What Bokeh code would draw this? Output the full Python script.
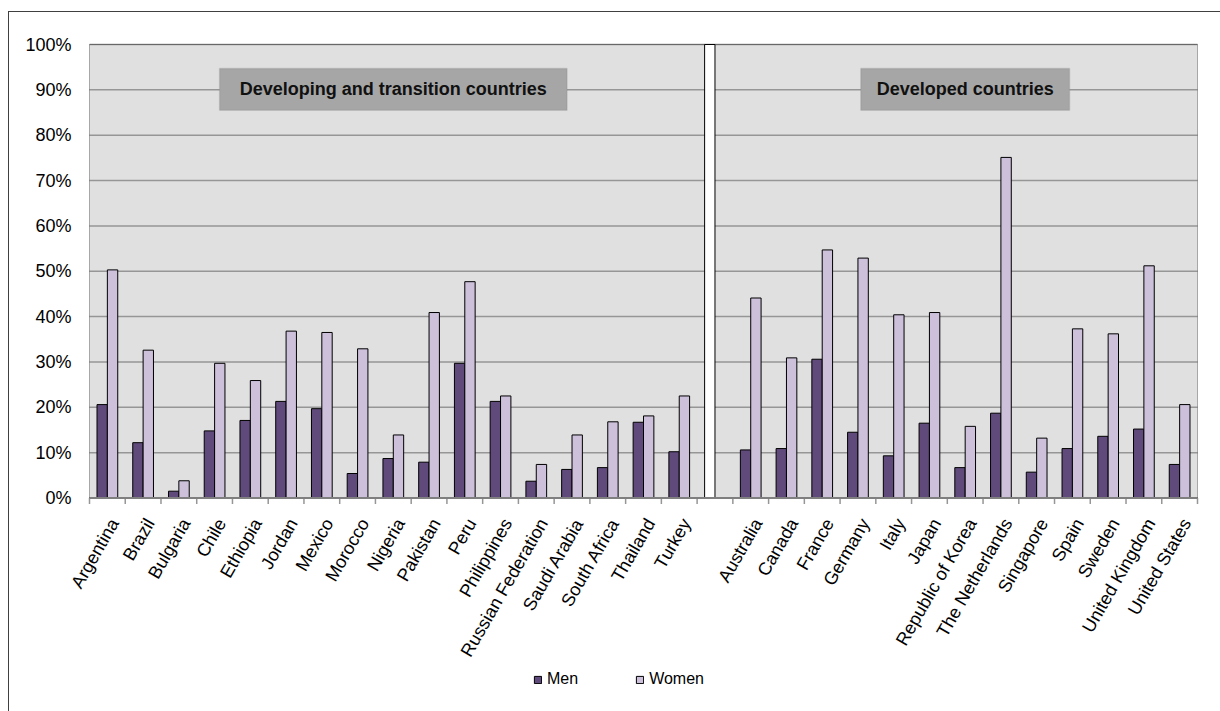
import math

from bokeh.core.properties import value
from bokeh.embed import file_html
from bokeh.models import (BoxAnnotation, ColumnDataSource, Label, Legend,
                          LegendItem, Range1d)
from bokeh.plotting import figure
from bokeh.resources import INLINE
from bokeh.transform import dodge

# Share of each group (per cent)
developing = ["Argentina", "Brazil", "Bulgaria", "Chile", "Ethiopia", "Jordan",
              "Mexico", "Morocco", "Nigeria", "Pakistan", "Peru", "Philippines",
              "Russian Federation", "Saudi Arabia", "South Africa", "Thailand",
              "Turkey"]
men_developing = [20.6, 12.2, 1.5, 14.8, 17.1, 21.3, 19.7, 5.4, 8.7, 7.9, 29.7,
                  21.3, 3.7, 6.3, 6.7, 16.7, 10.2]
women_developing = [50.3, 32.6, 3.8, 29.7, 25.9, 36.8, 36.5, 32.9, 13.9, 40.9,
                    47.7, 22.5, 7.4, 13.9, 16.8, 18.1, 22.5]

developed = ["Australia", "Canada", "France", "Germany", "Italy", "Japan",
             "Republic of Korea", "The Netherlands", "Singapore", "Spain",
             "Sweden", "United Kingdom", "United States"]
men_developed = [10.6, 10.9, 30.6, 14.5, 9.3, 16.5, 6.7, 18.7, 5.7, 10.9, 13.6,
                 15.2, 7.4]
women_developed = [44.1, 30.9, 54.7, 52.9, 40.4, 40.9, 15.8, 75.1, 13.2, 37.3,
                   36.2, 51.2, 20.6]

group_titles = ["Developing and transition countries", "Developed countries"]
y_ticks = list(range(0, 101, 10))
y_tick_labels = [f"{t}%" for t in y_ticks]

FONT = "Liberation Sans"
MEN_COLOR = "#604a7b"
WOMEN_COLOR = "#ccc0da"
GRID_COLOR = "#969696"
PANEL_COLOR = "#e0e0e0"

# page geometry (pixels): the bar panel spans PANEL_LEFT..PANEL_RIGHT and
# PANEL_TOP..ZERO_Y; everything else (labels, legend) lies around it
W, H = 1220, 711
PANEL_LEFT, PANEL_RIGHT = 89, 1197
PANEL_TOP, ZERO_Y = 44, 497.5

# one empty slot separates the two groups
slot_labels = developing + [""] + developed
n_slots = len(slot_labels)
gap_slot = len(developing)
x_dev = [i + 0.5 for i in range(len(developing))]
x_dvd = [gap_slot + 1 + i + 0.5 for i in range(len(developed))]

source = ColumnDataSource(dict(
    x=x_dev + x_dvd,
    men=men_developing + men_developed,
    women=women_developing + women_developed,
    name=developing + developed,
))

# the plotting frame covers the whole page so that the category labels and
# the legend outside the bar panel are not cut off
slot_px = (PANEL_RIGHT - PANEL_LEFT) / n_slots
unit_px = (ZERO_Y - PANEL_TOP) / 100
x_range = Range1d(-PANEL_LEFT / slot_px, (W - PANEL_LEFT) / slot_px)
y_range = Range1d(-(H - ZERO_Y) / unit_px, 100 + PANEL_TOP / unit_px)

p = figure(width=W, height=H, output_backend="svg", toolbar_location=None,
           x_range=x_range, y_range=y_range, x_axis_location=None,
           y_axis_location=None, min_border=0)
p.background_fill_alpha = 0
p.border_fill_alpha = 0
p.outline_line_color = None
p.grid.visible = False
# thin frame round the whole chart, drawn behind the canvas
p.styles = {"background": ("linear-gradient(#404040, #404040) 8px 11px / 1px 100% no-repeat, "
                           "linear-gradient(#404040, #404040) 8px 11px / 100% 1px no-repeat, "
                           "white")}

# grey bar panel
p.add_layout(BoxAnnotation(left=0, right=n_slots, bottom=0, top=100,
                           fill_color=PANEL_COLOR, fill_alpha=1, line_color=None,
                           level="image"))

# horizontal gridlines across the panel
p.segment(x0=0, x1=n_slots, y0=y_ticks, y1=y_ticks, line_color=GRID_COLOR,
          line_width=1.5)

bar_w = 0.29
r_men = p.vbar(x=dodge("x", -bar_w / 2, range=p.x_range), top="men", width=bar_w,
               source=source, fill_color=MEN_COLOR, line_color="black",
               line_width=1)
r_women = p.vbar(x=dodge("x", bar_w / 2, range=p.x_range), top="women",
                 width=bar_w, source=source, fill_color=WOMEN_COLOR,
                 line_color="black", line_width=1)

# white separator between the two country groups
sep = ColumnDataSource(dict(x=[gap_slot + 0.5], top=[100]))
p.vbar(x=dodge("x", -bar_w / 2, range=p.x_range), top="top", width=bar_w,
       source=sep, fill_color="white", line_color="black", line_width=1)

# panel outline, then the grey category axis line with its tick marks
p.add_layout(BoxAnnotation(left=0, right=n_slots, bottom=0, top=100,
                           fill_alpha=0, line_color="black", line_width=1,
                           level="glyph"))
p.segment(x0=0, x1=n_slots, y0=0, y1=0, line_color=GRID_COLOR, line_width=2)
p.ray(x=list(range(n_slots + 1)), y=0, length=6, length_units="screen",
      angle=-math.pi / 2, line_color=GRID_COLOR, line_width=1.5)

# category labels
p.text(x="x", y=0, text="name", source=source, angle=60, angle_units="deg",
       text_align="right", text_baseline="middle", x_offset=7, y_offset=22,
       text_font=value(FONT), text_font_size="18px", text_color="black")

# value labels
p.text(x=0, y=y_ticks, text=y_tick_labels, x_offset=-18, text_align="right",
       text_baseline="middle", text_font=value(FONT), text_font_size="18px",
       text_color="black")

# group title boxes
dev_center = len(developing) / 2
dvd_center = gap_slot + 1 + len(developed) / 2
for cx, half, title in [(dev_center, 4.86, group_titles[0]),
                        (dvd_center, 2.92, group_titles[1])]:
    p.add_layout(BoxAnnotation(left=cx - half, right=cx + half, bottom=85.5,
                               top=94.7, fill_color="#a6a6a6", fill_alpha=1,
                               line_color="#8c8c8c", line_width=1.5))
    p.add_layout(Label(x=cx, y=90.1, text=title, text_align="center",
                       text_baseline="middle", text_font=FONT,
                       text_font_size="18px", text_font_style="bold",
                       text_color="#111111"))

# legend under the category labels
legend = Legend(items=[LegendItem(label="Men", renderers=[r_men]),
                       LegendItem(label="Women", renderers=[r_women])],
                orientation="horizontal", location=(533, 23),
                glyph_width=9, glyph_height=9, label_standoff=5, spacing=57,
                padding=0, margin=0, label_height=16,
                label_text_font=FONT, label_text_font_size="16px",
                label_text_color="black", border_line_color=None,
                background_fill_alpha=0)
p.add_layout(legend)

open("out.html", "w").write(file_html(p, INLINE))
